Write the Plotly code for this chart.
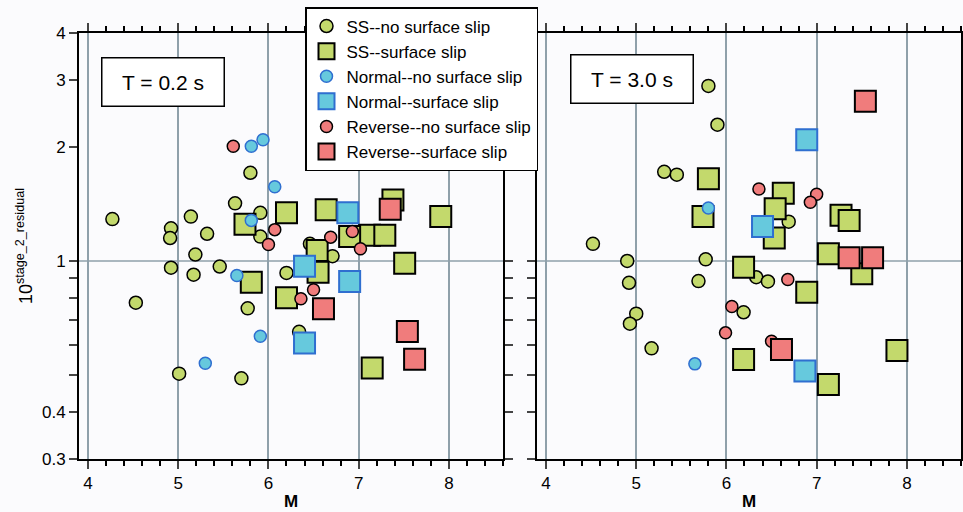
import math
import plotly.graph_objects as go

# ---------------- data (magnitude M, 10^stage_2_residual) ----------------
# Left panel: T = 0.2 s
l_ss_ns_m = [4.27, 4.92, 4.91, 5.14, 5.32, 5.63, 5.80, 5.91, 5.91, 5.19, 4.92, 5.17, 5.46, 4.53, 5.77, 6.20, 6.34, 5.01, 5.70, 6.71, 6.46]
l_ss_ns_r = [1.29, 1.22, 1.15, 1.31, 1.18, 1.42, 1.71, 1.34, 1.16, 1.04, 0.96, 0.92, 0.967, 0.776, 0.75, 0.93, 0.65, 0.504, 0.49, 1.03, 1.11]
l_ss_s_m = [5.74, 6.20, 6.64, 7.38, 7.91, 7.12, 7.29, 6.90, 6.54, 6.55, 7.51, 5.81, 6.20, 7.15]
l_ss_s_r = [1.25, 1.34, 1.365, 1.45, 1.31, 1.17, 1.17, 1.16, 1.066, 0.934, 0.987, 0.879, 0.80, 0.522]
l_n_ns_m = [5.81, 5.94, 6.07, 5.81, 5.65, 5.91, 5.30]
l_n_ns_r = [2.01, 2.09, 1.57, 1.28, 0.916, 0.633, 0.537]
l_n_s_m = [6.88, 6.40, 6.90, 6.40]
l_n_s_r = [1.34, 0.969, 0.883, 0.607]
l_r_ns_m = [5.61, 6.07, 6.00, 6.69, 6.93, 7.02, 6.50, 6.36]
l_r_ns_r = [2.01, 1.21, 1.105, 1.156, 1.197, 1.077, 0.84, 0.795]
l_r_s_m = [7.35, 6.61, 7.54, 7.62]
l_r_s_r = [1.37, 0.748, 0.651, 0.55]

# Right panel: T = 3.0 s
r_ss_ns_m = [5.80, 5.90, 5.31, 5.45, 4.52, 6.69, 4.90, 5.77, 4.92, 5.69, 6.33, 6.46, 5.00, 4.93, 6.19, 5.17]
r_ss_ns_r = [2.90, 2.29, 1.72, 1.69, 1.11, 1.27, 1.00, 1.01, 0.876, 0.885, 0.906, 0.883, 0.726, 0.683, 0.732, 0.588]
r_ss_s_m = [5.80, 5.74, 6.63, 6.54, 6.53, 7.27, 7.36, 6.19, 6.89, 7.13, 7.50, 6.19, 7.13, 7.89]
r_ss_s_r = [1.65, 1.31, 1.51, 1.374, 1.15, 1.32, 1.28, 0.963, 0.827, 1.045, 0.925, 0.549, 0.472, 0.58]
r_n_ns_m = [5.80, 5.65]
r_n_ns_r = [1.38, 0.535]
r_n_s_m = [6.89, 6.40, 6.87]
r_n_s_r = [2.09, 1.233, 0.512]
r_r_ns_m = [6.36, 7.00, 6.93, 6.68, 6.06, 5.99, 6.50]
r_r_ns_r = [1.55, 1.50, 1.43, 0.894, 0.758, 0.646, 0.614]
r_r_s_m = [7.54, 7.36, 7.62, 6.61]
r_r_s_r = [2.64, 1.02, 1.02, 0.584]

y_tickvals = [0.3, 0.4, 0.5, 0.6, 0.7, 0.8, 0.9, 1, 2, 3, 4]
y_ticktext = ["0.3", "0.4", " ", " ", " ", " ", " ", "1", "2", "3", "4"]
x_tickvals = [4, 5, 6, 7, 8]
panel_labels = ["T = 0.2 s", "T = 3.0 s"]
series_names = ["SS--no surface slip", "SS--surface slip", "Normal--no surface slip",
                "Normal--surface slip", "Reverse--no surface slip", "Reverse--surface slip"]

# ---------------- styles ----------------
GREEN, BLUE, RED = "#c3d96c", "#66c9dd", "#f07c7c"
BLUE_EDGE = "#2f6fd0"
styles = [
    dict(symbol="circle", size=13, color=GREEN, line=dict(color="black", width=1.5)),
    dict(symbol="square", size=21, color=GREEN, line=dict(color="black", width=2)),
    dict(symbol="circle", size=12, color=BLUE, line=dict(color=BLUE_EDGE, width=1.5)),
    dict(symbol="square", size=21, color=BLUE, line=dict(color=BLUE_EDGE, width=2)),
    dict(symbol="circle", size=12, color=RED, line=dict(color="black", width=1.5)),
    dict(symbol="square", size=21, color=RED, line=dict(color="black", width=2)),
]

left = [(l_ss_ns_m, l_ss_ns_r), (l_ss_s_m, l_ss_s_r), (l_n_ns_m, l_n_ns_r),
        (l_n_s_m, l_n_s_r), (l_r_ns_m, l_r_ns_r), (l_r_s_m, l_r_s_r)]
right = [(r_ss_ns_m, r_ss_ns_r), (r_ss_s_m, r_ss_s_r), (r_n_ns_m, r_n_ns_r),
         (r_n_s_m, r_n_s_r), (r_r_ns_m, r_r_ns_r), (r_r_s_m, r_r_s_r)]

fig = go.Figure()
for i, (name, st) in enumerate(zip(series_names, styles)):
    for panel, (xa, ya, show) in zip((left, right), (("x", "y", True), ("x2", "y2", False))):
        m, r = panel[i]
        fig.add_trace(go.Scatter(
            x=m, y=r, mode="markers", name=name, legendgroup=name, showlegend=show,
            xaxis=xa, yaxis=ya, marker=st, hoverinfo="x+y"))

FONT = "Liberation Sans, Arial, Helvetica, sans-serif"
W, H = 963, 512
ml, mr, mt, mb = 79, 2, 33, 53
pw = W - ml - mr
ph = H - mt - mb
left_dom = [0, 424 / pw]
right_dom = [(537 - ml) / pw, 1]
yrange = [math.log10(0.3), math.log10(4)]

xcommon = dict(range=[3.9, 8.6], tickvals=x_tickvals, ticks="outside", ticklen=8, tickwidth=2,
               showline=True, linecolor="black", linewidth=2, mirror="ticks", automargin=False,
               showgrid=True, gridcolor="#8fa0aa", gridwidth=1.5, zeroline=False,
               tickfont=dict(size=17, color="black", family=FONT),
               minor=dict(dtick=0.2, tick0=4, ticks="outside", ticklen=5, tickwidth=2,
                          tickcolor="black", showgrid=False))
ycommon = dict(type="log", range=yrange, tickvals=y_tickvals, ticktext=y_ticktext,
               ticks="outside", ticklen=8, tickwidth=2, showline=True, linecolor="black",
               linewidth=2, mirror="ticks", showgrid=False, zeroline=False, automargin=False,
               tickfont=dict(size=17, color="black", family=FONT))

fig.update_layout(
    template="none",
    width=W, height=H, margin=dict(l=ml, r=mr, t=mt, b=mb, autoexpand=False),
    paper_bgcolor="#fbfbfd", plot_bgcolor="#fbfbfd",
    font=dict(family=FONT, color="black"),
    xaxis=dict(domain=left_dom, anchor="y", **xcommon),
    xaxis2=dict(domain=right_dom, anchor="y2", **xcommon),
    yaxis=dict(domain=[0, 1], anchor="x", **ycommon),
    yaxis2=dict(domain=[0, 1], anchor="x2", showticklabels=False, **ycommon),
    legend=dict(x=(305 - ml) / pw, y=(H - mb - 7) / ph, xanchor="left", yanchor="top",
                bgcolor="white", bordercolor="black", borderwidth=1.5,
                font=dict(size=17, family=FONT, color="black"), tracegroupgap=0,
                itemsizing="trace", entrywidth=205, entrywidthmode="pixels"),
    showlegend=True,
)

# horizontal gridline at 1 in each panel
y1frac = (0 - yrange[0]) / (yrange[1] - yrange[0])
for xr, yr in (("x domain", "y domain"), ("x2 domain", "y2 domain")):
    fig.add_shape(type="line", xref=xr, yref=yr, x0=0, x1=1, y0=y1frac, y1=y1frac,
                  line=dict(color="#8fa0aa", width=1.5), layer="below")

# panel labels
for (xr, yr, xc, yc), txt in zip((("x domain", "y domain", 0.197, 0.886),
                                   ("x2 domain", "y2 domain", 0.225, 0.891)), panel_labels):
    fig.add_annotation(text=txt, xref=xr, yref=yr, x=xc, y=yc, xanchor="center", yanchor="middle",
                       showarrow=False, font=dict(size=21, family=FONT, color="black"),
                       bgcolor="white", bordercolor="black", borderwidth=1.5,
                       width=121, height=47, borderpad=0)

# axis titles (placed as annotations for exact positioning)
for xr, xc in (("x domain", 0.5), ("x2 domain", 0.5)):
    fig.add_annotation(text="<b>M</b>", xref=xr, yref="paper", x=xc, y=(H - mb - 501) / ph,
                       xanchor="center", yanchor="middle", showarrow=False,
                       font=dict(size=17, family=FONT, color="black"))
fig.add_annotation(text="10<sup>stage_2_residual</sup>", xref="paper", yref="y domain",
                   x=(24 - ml) / pw, y=0.5, xanchor="center", yanchor="middle", textangle=-90,
                   showarrow=False, font=dict(size=18, family=FONT, color="black"))

fig.write_html("out.html", config={"displayModeBar": False},
               post_script="document.body.style.margin='0';document.body.style.padding='0';")
